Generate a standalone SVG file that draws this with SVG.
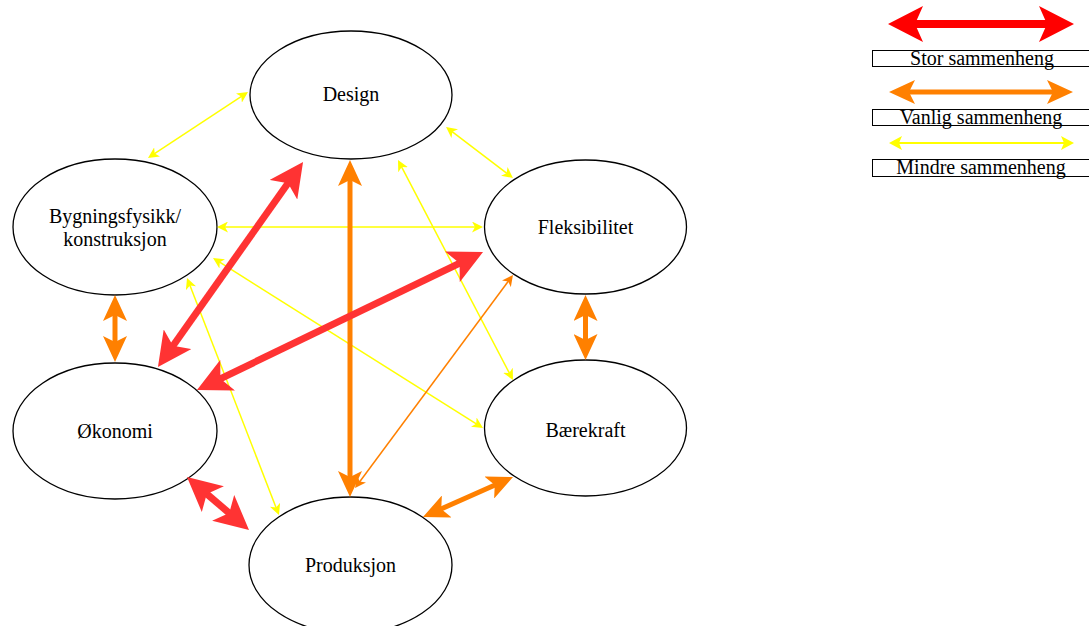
<svg xmlns="http://www.w3.org/2000/svg" width="1089" height="626" viewBox="0 0 1089 626">
<style>
.node ellipse{fill:#fff;stroke:#000;stroke-width:1.3}
text{font-family:"Liberation Serif","Times New Roman",serif;font-size:20px;fill:#000;text-anchor:middle}
.red{stroke:#FF3333;stroke-width:7;fill:none;marker-start:url(#mr);marker-end:url(#mr)}
.or{stroke:#FF8000;stroke-width:5;fill:none;marker-start:url(#mo);marker-end:url(#mo)}
.ort{stroke:#FF8000;stroke-width:1.5;fill:none;marker-start:url(#mot);marker-end:url(#mot)}
.ye{stroke:#FFFF00;stroke-width:1.5;fill:none;marker-start:url(#my);marker-end:url(#my)}
.lred{stroke:#FF0000;stroke-width:8;fill:none;marker-start:url(#mlr);marker-end:url(#mlr)}
.lye{stroke:#FFFF00;stroke-width:2;fill:none;marker-start:url(#mly);marker-end:url(#mly)}
.box{fill:#fff;stroke:#000;stroke-width:1}
</style>
<defs>
<marker id="mr" markerUnits="userSpaceOnUse" viewBox="0 0 34 34" markerWidth="34" markerHeight="34" refX="14" refY="17" orient="auto-start-reverse"><path d="M0,0 L34,17 L0,34 L8,17 z" fill="#FF3333"/></marker>
<marker id="mlr" markerUnits="userSpaceOnUse" viewBox="0 0 35 36" markerWidth="35" markerHeight="36" refX="14" refY="18" orient="auto-start-reverse"><path d="M0,0 L35,18 L0,36 L8,18 z" fill="#FF0000"/></marker>
<marker id="mo" markerUnits="userSpaceOnUse" viewBox="0 0 26 24" markerWidth="26" markerHeight="24" refX="10" refY="12" orient="auto-start-reverse"><path d="M0,0 L26,12 L0,24 L6,12 z" fill="#FF8000"/></marker>
<marker id="mot" markerUnits="userSpaceOnUse" viewBox="0 0 11 11" markerWidth="11" markerHeight="11" refX="5" refY="5.5" orient="auto-start-reverse"><path d="M0,0 L11,5.5 L0,11 L3,5.5 z" fill="#FF8000"/></marker>
<marker id="my" markerUnits="userSpaceOnUse" viewBox="0 0 11 11" markerWidth="11" markerHeight="11" refX="5" refY="5.5" orient="auto-start-reverse"><path d="M0,0 L11,5.5 L0,11 L3,5.5 z" fill="#FFFF00"/></marker>
<marker id="mly" markerUnits="userSpaceOnUse" viewBox="0 0 13 14" markerWidth="13" markerHeight="14" refX="6" refY="7" orient="auto-start-reverse"><path d="M0,0 L13,7 L0,14 L3,7 z" fill="#FFFF00"/></marker>
</defs>

<g id="design" class="node"><ellipse cx="351" cy="95" rx="101" ry="64"/><text x="351" y="101">Design</text></g>
<g id="bygningsfysikk" class="node"><ellipse cx="115" cy="227" rx="102" ry="68"/><text x="115" y="223">Bygningsfysikk/</text><text x="115" y="246">konstruksjon</text></g>
<g id="fleksibilitet" class="node"><ellipse cx="585.5" cy="227" rx="101" ry="67"/><text x="585.5" y="234">Fleksibilitet</text></g>
<g id="okonomi" class="node"><ellipse cx="115" cy="431" rx="102" ry="68"/><text x="115" y="438">Økonomi</text></g>
<g id="baerekraft" class="node"><ellipse cx="585.5" cy="428" rx="101" ry="68"/><text x="585.5" y="437">Bærekraft</text></g>
<g id="produksjon" class="node"><ellipse cx="350.5" cy="565" rx="101.5" ry="68"/><text x="350.5" y="572">Produksjon</text></g>

<g id="connectors">
<line class="ye" x1="243" y1="95.3" x2="153" y2="154.7"/>
<line class="ye" x1="450.8" y1="130.6" x2="508.2" y2="174.4"/>
<line class="ye" x1="400.8" y1="165.3" x2="510.2" y2="374.7"/>
<line class="ye" x1="223" y1="227" x2="477" y2="227"/>
<line class="ye" x1="218.1" y1="261.2" x2="477.9" y2="424.8"/>
<line class="ye" x1="189.2" y1="283.6" x2="276.8" y2="509.4"/>
<line class="or" x1="350" y1="176" x2="350" y2="481"/>
<line class="or" x1="115" y1="311" x2="115" y2="346"/>
<line class="or" x1="585.5" y1="311" x2="585.5" y2="344"/>
<line class="or" x1="437.6" y1="510.5" x2="498.4" y2="483.5"/>
<line class="ort" x1="358.6" y1="483.2" x2="509.4" y2="279.8"/>
<line class="red" x1="291.5" y1="178.3" x2="169.5" y2="350.7"/>
<line class="red" x1="465" y1="260.7" x2="215" y2="381.3"/>
<line class="red" x1="202.2" y1="490" x2="233.8" y2="517"/>
</g>

<g id="legend">
<line class="lred" x1="909" y1="24" x2="1053" y2="24"/>
<rect class="box" x="872.5" y="50.5" width="222" height="16"/>
<text x="982" y="65">Stor sammenheng</text>
<line class="or" x1="905" y1="92" x2="1057" y2="92"/>
<rect class="box" x="872.5" y="109.5" width="222" height="16"/>
<text x="981" y="124">Vanlig sammenheng</text>
<line class="lye" x1="896" y1="143" x2="1067" y2="143"/>
<rect class="box" x="872.5" y="159.5" width="222" height="17"/>
<text x="981" y="174">Mindre sammenheng</text>
</g>
</svg>
